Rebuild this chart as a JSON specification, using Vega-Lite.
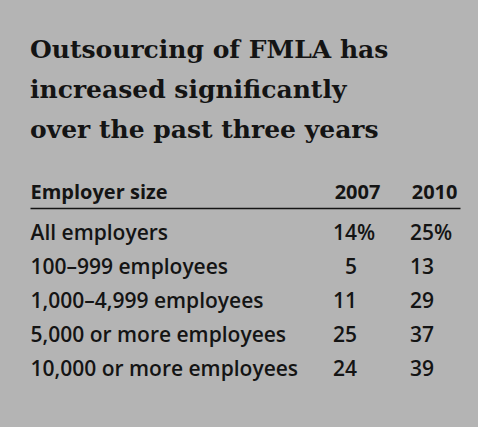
{
  "$schema": "https://vega.github.io/schema/vega-lite/v6.json",
  "width": 430,
  "height": 188,
  "autosize": {"type": "none"},
  "padding": {"left": 30, "top": 208, "right": 18, "bottom": 31},
  "background": "#b4b4b4",
  "title": {
    "text": ["Outsourcing of FMLA has", "increased significantly", "over the past three years"],
    "anchor": "start",
    "frame": "group",
    "font": "DejaVu Serif, serif",
    "fontWeight": "bold",
    "fontSize": 25,
    "lineHeight": 40,
    "color": "#141414",
    "offset": 39
  },
  "data": {
    "values": [
      {"size": "All employers", "year": 2007, "pct": 14, "suffix": "%"},
      {"size": "All employers", "year": 2010, "pct": 25, "suffix": "%"},
      {"size": "100–999 employees", "year": 2007, "pct": 5, "suffix": ""},
      {"size": "100–999 employees", "year": 2010, "pct": 13, "suffix": ""},
      {"size": "1,000–4,999 employees", "year": 2007, "pct": 11, "suffix": ""},
      {"size": "1,000–4,999 employees", "year": 2010, "pct": 29, "suffix": ""},
      {"size": "5,000 or more employees", "year": 2007, "pct": 25, "suffix": ""},
      {"size": "5,000 or more employees", "year": 2010, "pct": 37, "suffix": ""},
      {"size": "10,000 or more employees", "year": 2007, "pct": 24, "suffix": ""},
      {"size": "10,000 or more employees", "year": 2010, "pct": 39, "suffix": ""}
    ]
  },
  "encoding": {
    "y": {
      "field": "size",
      "type": "nominal",
      "sort": ["All employers", "100–999 employees", "1,000–4,999 employees", "5,000 or more employees", "10,000 or more employees"],
      "scale": {"type": "band", "paddingInner": 0, "paddingOuter": 0.265},
      "axis": {
        "orient": "left",
        "title": null,
        "domain": false,
        "ticks": false,
        "tickSize": 0,
        "grid": false,
        "labelAlign": "left",
        "labelBaseline": "middle",
        "labelPadding": 0,
        "labelLimit": 400,
        "labelFont": "Open Sans",
        "labelFontSize": 21,
        "labelFontWeight": 600,
        "labelColor": "#141414"
      }
    },
    "x": {
      "field": "year",
      "type": "quantitative",
      "scale": {"domain": [1994.26, 2011.01], "nice": false, "zero": false},
      "axis": {
        "orient": "top",
        "values": [2007, 2010],
        "format": "d",
        "title": "Employer size",
        "titleAnchor": "start",
        "titleAlign": "left",
        "titleBaseline": "alphabetic",
        "titleY": -10,
        "titleFont": "Open Sans",
        "titleFontSize": 20,
        "titleFontWeight": "bold",
        "titleColor": "#141414",
        "domain": true,
        "domainColor": "#141414",
        "domainWidth": 1.5,
        "ticks": false,
        "tickSize": 0,
        "grid": false,
        "labelAngle": 0,
        "labelAlign": "center",
        "labelBaseline": "alphabetic",
        "labelPadding": 10,
        "labelFlush": false,
        "labelOverlap": false,
        "labelFont": "Open Sans",
        "labelFontSize": 20,
        "labelFontWeight": "bold",
        "labelColor": "#141414"
      }
    }
  },
  "layer": [
    {
      "mark": {"type": "text", "align": "right", "baseline": "middle", "font": "Open Sans", "fontSize": 21, "fontWeight": 600, "color": "#141414"},
      "encoding": {"text": {"field": "pct", "type": "quantitative"}}
    },
    {
      "mark": {"type": "text", "align": "left", "baseline": "middle", "font": "Open Sans", "fontSize": 21, "fontWeight": 600, "color": "#141414"},
      "encoding": {"text": {"field": "suffix", "type": "nominal"}}
    }
  ],
  "config": {"view": {"stroke": null}}
}
